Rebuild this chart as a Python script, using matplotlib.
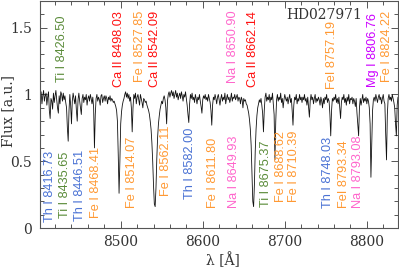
import numpy as np
import matplotlib
matplotlib.use("Agg")
import matplotlib.pyplot as plt
from matplotlib.ticker import MultipleLocator

# ---------------- data ----------------
wave_start = 8402  # first sample, 1 A steps
flux = [
    # 8402-8421
    0.99, 1.02, 0.93, 0.99, 1.03, 0.95, 0.99, 1.01, 0.92, 0.98, 1.02, 0.88, 0.82, 0.97, 0.95, 0.89, 1.01, 0.94, 0.99, 1.03,
    # 8422-8441
    0.96, 0.90, 0.86, 0.99, 0.93, 1.02, 1.00, 0.95, 1.01, 0.96, 0.99, 0.94, 0.90, 0.75, 0.65, 0.88, 1.00, 0.92, 0.78, 0.95,
    # 8442-8461
    1.01, 0.97, 0.93, 0.99, 0.88, 0.80, 0.96, 1.01, 0.95, 0.90, 0.85, 0.97, 1.00, 0.94, 0.98, 0.96, 1.00, 0.92, 0.97, 0.99,
    # 8462-8481
    0.95, 1.00, 0.97, 0.93, 0.98, 0.90, 0.60, 0.85, 0.97, 1.00, 0.95, 0.98, 0.96, 0.92, 0.99, 1.00, 0.94, 0.97, 0.99, 0.95,
    # 8482-8501
    0.99, 0.97, 0.93, 0.98, 0.96, 0.99, 0.95, 0.97, 0.96, 0.94, 0.95, 0.93, 0.91, 0.88, 0.80, 0.55, 0.26, 0.50, 0.78, 0.87,
    # 8502-8521
    0.92, 0.95, 0.97, 1.00, 1.02, 0.98, 1.01, 0.97, 1.00, 0.95, 0.98, 0.90, 0.72, 0.90, 1.00, 0.97, 1.01, 0.93, 0.98, 1.00,
    # 8522-8541
    0.96, 0.92, 1.00, 0.97, 0.94, 0.90, 0.97, 0.96, 0.94, 0.95, 0.92, 0.90, 0.88, 0.85, 0.80, 0.74, 0.64, 0.50, 0.32, 0.18,
    # 8542-8561
    0.16, 0.30, 0.52, 0.68, 0.78, 0.84, 0.89, 0.92, 0.95, 0.93, 0.97, 0.99, 0.96, 0.90, 0.78, 0.95, 1.00, 1.02, 0.98, 1.01,
    # 8562-8581
    1.03, 0.99, 1.02, 0.97, 1.00, 1.03, 0.98, 1.01, 0.96, 0.99, 1.01, 0.97, 1.02, 0.99, 0.95, 1.00, 0.98, 1.02, 0.97, 0.92,
    # 8582-8601
    0.85, 0.79, 0.93, 1.00, 0.97, 1.01, 0.96, 0.98, 0.94, 1.00, 0.97, 0.93, 0.98, 0.96, 1.00, 0.95, 0.91, 0.86, 0.96, 0.99,
    # 8602-8621
    0.97, 1.00, 0.96, 0.98, 0.95, 1.00, 0.97, 0.94, 0.88, 0.77, 0.92, 0.98, 0.96, 1.00, 0.97, 0.93, 0.98, 1.00, 0.96, 0.92,
    # 8622-8641
    0.97, 1.00, 0.95, 0.98, 0.96, 1.01, 0.93, 0.97, 1.00, 0.96, 0.98, 0.94, 0.97, 1.01, 0.95, 0.98, 0.97, 1.00, 0.96, 0.98,
    # 8642-8661
    1.00, 0.95, 0.98, 0.97, 0.93, 0.98, 0.96, 0.90, 0.97, 0.95, 0.96, 0.93, 0.92, 0.89, 0.86, 0.81, 0.74, 0.62, 0.42, 0.20,
    # 8662-8681
    0.16, 0.33, 0.58, 0.74, 0.84, 0.90, 0.93, 0.96, 0.94, 0.97, 0.92, 0.86, 0.72, 0.88, 0.98, 1.01, 0.95, 0.98, 0.96, 1.00,
    # 8682-8701
    0.94, 0.98, 0.96, 1.01, 0.93, 0.85, 0.51, 0.80, 0.96, 1.00, 0.95, 0.98, 0.96, 1.01, 0.94, 0.97, 0.90, 0.96, 1.00, 0.97,
    # 8702-8721
    0.95, 0.98, 0.93, 0.97, 1.00, 0.94, 0.97, 0.88, 0.77, 0.92, 0.98, 0.96, 1.00, 0.93, 0.97, 0.95, 1.00, 0.96, 0.98, 0.94,
    # 8722-8741
    0.98, 0.96, 1.00, 0.95, 0.97, 0.92, 0.98, 0.90, 0.83, 0.95, 1.00, 0.96, 0.98, 0.93, 0.97, 1.00, 0.94, 0.97, 0.95, 0.98,
    # 8742-8761
    0.96, 0.92, 0.98, 0.95, 0.90, 0.97, 0.93, 0.98, 0.96, 1.00, 0.94, 0.97, 0.95, 0.85, 0.69, 0.88, 0.97, 0.95, 0.98, 0.96,
    # 8762-8781
    1.00, 0.94, 0.97, 0.93, 0.98, 0.90, 0.82, 0.94, 0.98, 0.96, 1.00, 0.94, 0.97, 0.92, 0.98, 0.95, 1.00, 0.93, 0.97, 0.96,
    # 8782-8801
    0.98, 0.93, 0.97, 0.95, 0.91, 0.97, 0.86, 0.78, 0.69, 0.90, 0.97, 0.92, 0.96, 1.00, 0.94, 0.97, 0.95, 0.98, 0.93, 0.97,
    # 8802-8821
    0.95, 0.90, 0.78, 0.38, 0.62, 0.88, 0.96, 0.98, 0.95, 1.00, 0.97, 0.94, 0.98, 1.00, 0.96, 0.98, 0.93, 0.97, 1.00, 0.95,
    # 8822-8840
    0.93, 0.70, 0.51, 0.85, 0.97, 1.00, 0.96, 0.98, 0.95, 1.00, 0.97, 0.94, 0.90, 0.78, 0.69, 0.92, 0.98, 0.97, 0.99,
]
wave = wave_start + np.arange(len(flux))

# upper line labels: text, element, x position, top y
upper_text = ["Ti I 8426.50", "Ca II 8498.03", "Fe I 8527.85", "Ca II 8542.09",
              "Na I 8650.90", "Ca II 8662.14", "FeI 8757.19", "Mg I 8806.76", "Fe I 8824.22"]
upper_elem = ["Ti", "Ca", "Fe", "Ca", "Na", "Ca", "Fe", "Mg", "Fe"]
upper_x = [8429, 8498.4, 8523.6, 8542, 8636.6, 8661.8, 8757.3, 8808, 8824.4]
upper_y = [1.59, 1.627, 1.627, 1.627, 1.627, 1.627, 1.552, 1.61, 1.627]

# lower line labels: text, element, x position, bottom y
lower_text = ["Th I 8416.73", "Ti I 8435.65", "Th I 8446.51", "Fe I 8468.41",
              "Fe I 8514.07", "Fe I 8562.11", "Th I 8582.00", "Fe I 8611.80",
              "Na I 8649.93", "Ti I 8675.37", "Fe I 8688.62", "Fe I 8710.39",
              "Th I 8748.03", "FeI 8793.34", "Na I 8793.08"]
lower_elem = ["Th", "Ti", "Th", "Fe", "Fe", "Fe", "Th", "Fe", "Na", "Ti", "Fe", "Fe",
              "Th", "Fe", "Na"]
lower_x = [8413.8, 8432.1, 8450.4, 8469.6, 8513.5, 8555.3, 8584.2, 8612.6,
           8637.5, 8676.8, 8695.0, 8711.0, 8753.0, 8772.0, 8789.6]
lower_y = [0.045, 0.075, 0.052, 0.075, 0.15, 0.24, 0.22, 0.15,
           0.147, 0.16, 0.196, 0.196, 0.147, 0.15, 0.147]

colors = {"Th": "#4a72d4", "Ti": "#5b8c3a", "Fe": "#ff9933", "Ca": "#ff1010",
          "Na": "#ff66cc", "Mg": "#cc00ff"}

star = "HD027971"

# ---------------- figure ----------------
fig = plt.figure(figsize=(3.99, 2.70), dpi=100)
ax = fig.add_axes([40.3 / 399, 42 / 270, (398 - 40.3) / 399, 227 / 270])

ax.plot(wave, flux, color="#111111", lw=0.6)

ax.set_xlim(8402, 8838)
ax.set_ylim(0, 1.7)

ax.xaxis.set_major_locator(MultipleLocator(100))
ax.xaxis.set_minor_locator(MultipleLocator(20))
ax.yaxis.set_major_locator(MultipleLocator(0.5))
ax.yaxis.set_minor_locator(MultipleLocator(0.1))
ax.yaxis.set_major_formatter(matplotlib.ticker.FuncFormatter(
    lambda v, p: "%g" % v))

for s in ax.spines.values():
    s.set_color("#555555")
    s.set_linewidth(0.8)

ax.tick_params(which="both", direction="in", top=True, right=True,
               colors="#555555", labelcolor="#333333", width=0.7)
ax.tick_params(which="major", length=5, labelsize=10, pad=5)
ax.tick_params(which="minor", length=3)
for lab in ax.get_xticklabels() + ax.get_yticklabels():
    lab.set_fontfamily("DejaVu Serif")
ax.tick_params(axis="y", which="major", pad=6)

lab_font = dict(family="Liberation Sans", size=9.2)
for t, e, x, y in zip(upper_text, upper_elem, upper_x, upper_y):
    ax.text(x, y, t, rotation=90, ha="center", va="top",
            color=colors[e], **lab_font)
for t, e, x, y in zip(lower_text, lower_elem, lower_x, lower_y):
    ax.text(x, y, t, rotation=90, ha="center", va="bottom",
            color=colors[e], **lab_font)

fig.text(324 / 399, (270 - 15) / 270, star, ha="center", va="center",
         family="DejaVu Serif", size=10, color="#333333")

fig.text(8 / 399, (270 - 111) / 270, "Flux [a.u.]", rotation=90,
         ha="center", va="center", family="DejaVu Serif", size=10,
         color="#333333")
fig.text(223 / 399, 10 / 270, "λ [Å]", ha="center", va="center",
         family="DejaVu Serif", size=10, color="#333333")

fig.savefig("out.png", dpi=100)
